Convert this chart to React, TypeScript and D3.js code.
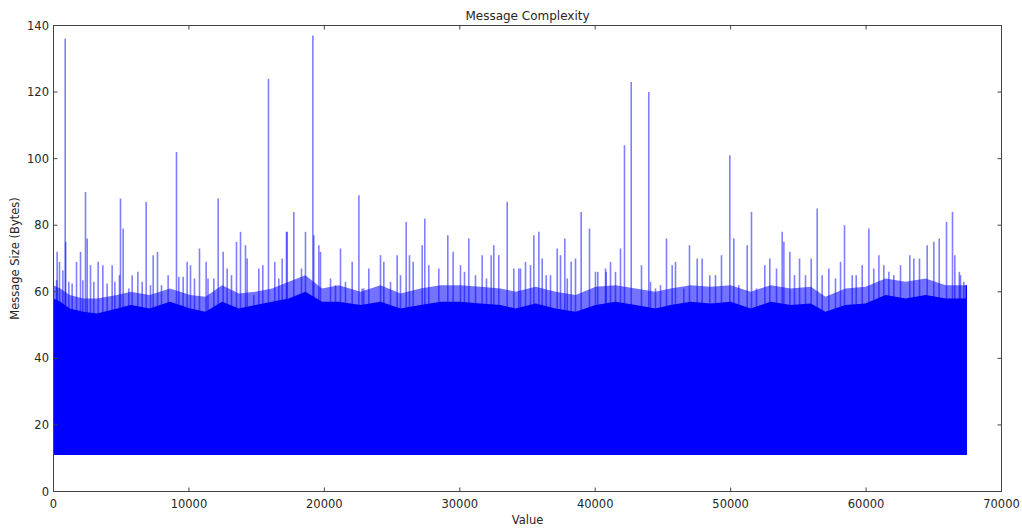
import React from "react";
import * as d3 from "d3";

// ---- data ----
const X_END = 67400;
const BASELINE = 11;

// upper edge of the dense (mostly saturated) zone
const bandX = [0, 500, 1200, 2200, 3200, 4700, 5700, 7100, 8600, 10100, 11220, 12450, 13680, 14910, 16140, 17370, 18600, 19830, 21060, 22670, 24150, 25620, 27100, 28580, 30050, 31530, 33010, 34110, 35600, 37070, 38550, 40030, 41500, 42980, 44450, 45560, 47040, 48520, 50000, 51480, 52960, 54440, 55920, 57000, 58480, 59960, 61440, 62920, 64400, 65880, 67400];
const bandTop = [62, 61, 59, 58, 58, 59, 60, 59, 61, 59, 58.5, 62, 59.5, 60, 61, 63, 65, 61, 62, 60, 62, 59.5, 61, 62, 62, 61.5, 61, 60, 61.5, 60, 59, 61.5, 62, 61, 60, 61, 62, 61.5, 62, 60, 62, 61, 61.5, 58.5, 61, 61.5, 64, 63, 64, 62, 62];
// top of the fully solid part below it
const solidTop = [58, 57, 55, 54, 53.5, 55, 56, 55, 57, 55, 54, 57, 55, 56, 57, 58, 60, 57, 57, 56, 57, 55, 56, 57, 57, 56.5, 56, 55, 56.5, 55, 54, 56, 57, 56, 55, 56, 57, 56.5, 57, 55, 57, 56, 56.5, 54, 56, 56.5, 59, 58, 59, 58, 58];

// individual excursions above the band
const peakX = [230, 270, 443, 690, 864, 900, 1132, 1377, 1700, 1994, 2166, 2363, 2488, 2732, 2978, 3298, 3643, 3962, 4330, 4530, 4873, 4947, 5144, 5563, 5809, 6227, 6547, 6843, 7163, 7360, 7679, 7975, 8465, 9082, 9254, 9574, 9869, 10116, 10411, 10780, 11270, 11409, 11838, 12160, 12528, 12823, 13143, 13513, 13808, 14177, 14300, 14790, 15160, 15455, 15875, 16340, 16637, 16885, 17204, 17254, 17745, 18312, 18607, 19150, 19220, 19593, 19715, 20453, 20822, 21192, 21561, 22055, 22550, 22793, 22912, 23283, 24146, 24390, 24884, 25377, 25622, 26042, 26287, 26557, 27225, 27416, 27712, 28450, 29115, 29509, 30052, 30347, 30667, 31160, 31654, 31972, 32319, 32511, 32880, 33502, 33988, 34357, 34483, 34852, 35221, 35470, 35840, 36085, 36380, 36698, 37193, 37437, 37757, 37935, 38224, 38544, 38963, 39578, 40020, 40190, 40760, 40811, 41129, 41498, 41867, 42162, 42658, 43417, 43956, 44083, 44452, 44821, 45263, 45683, 45928, 46541, 46961, 47530, 47899, 48460, 48881, 49325, 49938, 50234, 50600, 51223, 51540, 51908, 52521, 52891, 53387, 53806, 53930, 54373, 54715, 55090, 55527, 55948, 56391, 56759, 57250, 57742, 58113, 58408, 58975, 59271, 59715, 60207, 60567, 60946, 61310, 61685, 62047, 62544, 63231, 63526, 63945, 64512, 65004, 65400, 65939, 66382, 66553, 66888, 66973, 67218];
const peakY = [63.5, 72, 69, 66.5, 136, 75, 63, 62.5, 69, 72, 63.5, 90, 76, 68, 63, 69, 68, 62.5, 68, 63, 65, 88, 79, 61, 65, 66, 63, 87, 62, 71, 72, 62, 65, 102, 64.5, 64.5, 69, 68, 64, 73, 69, 64, 64, 88, 72, 67, 65, 75, 78, 74, 70, 59, 67, 68, 124, 69, 64, 70, 78, 78, 84, 67, 78, 137, 77, 74, 72, 64, 62, 73, 63, 69, 89, 61, 61, 67, 71, 69, 63, 71, 65, 81, 71, 69, 74, 82, 68, 67, 77, 72, 68, 66, 76, 65, 71, 64, 71, 74, 71, 87, 67, 67, 67, 69, 68, 77, 78, 70, 65, 65, 73, 71, 76, 64, 69, 70, 84, 79, 66, 66, 67, 66, 69, 66, 73, 104, 123, 68, 120, 63, 61, 62, 76, 68, 69, 61, 74, 70, 70, 65, 65, 71, 101, 76, 62, 74, 84, 61, 68, 70, 67, 78, 75, 72, 65, 70, 65, 70, 85, 65, 67, 64, 69, 80, 65, 65, 68, 79, 67, 71, 68, 66, 65, 68, 71, 70, 70, 74, 75, 76, 81, 84, 71, 66, 65, 63];

const xTicks = [0, 10000, 20000, 30000, 40000, 50000, 60000, 70000];
const yTicks = [0, 20, 40, 60, 80, 100, 120, 140];

const W = 1022;
const H = 529;
const L = 53.5, R = 1001.5, T = 25.5, B = 491.5;
const FONT = "'DejaVu Sans', sans-serif";
const TXT = "#262626";

export default function App() {
  const x = d3.scaleLinear().domain([0, 70000]).range([L, R]);
  const y = d3.scaleLinear().domain([0, 140]).range([B, T]);

  const mkArea = (tops: number[]) =>
    d3
      .area<number>()
      .x((_, i) => x(bandX[i]))
      .y0(y(BASELINE))
      .y1((d) => y(d))
      .curve(d3.curveLinear)(tops) || "";

  const tickLen = 4;

  return (
    <svg
      width={W}
      height={H}
      style={{ position: "absolute", left: 0, top: 0, background: "#fff" }}
      fontFamily={FONT}
    >
      <rect x={0} y={0} width={W} height={H} fill="#fff" />
      {/* semi-dense zone */}
      <path d={mkArea(bandTop)} fill="#0000ff" fillOpacity={0.55} />
      {/* spikes */}
      <g stroke="#0000ff" strokeOpacity={0.5} strokeWidth={1.6}>
        {peakX.map((v, i) => (
          <line key={i} x1={x(v)} x2={x(v)} y1={y(BASELINE)} y2={y(peakY[i])} />
        ))}
      </g>
      {/* solid band */}
      <path d={mkArea(solidTop)} fill="#0000ff" />
      <line x1={x(X_END)} x2={x(X_END)} y1={y(BASELINE)} y2={y(62)} stroke="#0000ff" strokeWidth={1.5} />

      {/* frame */}
      <rect x={L} y={T} width={R - L} height={B - T} fill="none" stroke="#444" strokeWidth={1} />

      {/* x ticks */}
      {xTicks.map((t) => (
        <g key={"x" + t}>
          <line x1={x(t)} x2={x(t)} y1={B} y2={B - tickLen} stroke="#444" />
          <line x1={x(t)} x2={x(t)} y1={T} y2={T + tickLen} stroke="#444" />
          <text x={x(t)} y={508} textAnchor="middle" fontSize={11.5} fill={TXT}>
            {t}
          </text>
        </g>
      ))}
      {/* y ticks */}
      {yTicks.map((t) => (
        <g key={"y" + t}>
          <line x1={L} x2={L + tickLen} y1={y(t)} y2={y(t)} stroke="#444" />
          <line x1={R} x2={R - tickLen} y1={y(t)} y2={y(t)} stroke="#444" />
          <text x={49} y={y(t)} dy="0.35em" textAnchor="end" fontSize={11.5} fill={TXT}>
            {t}
          </text>
        </g>
      ))}

      <text x={(L + R) / 2} y={20} textAnchor="middle" fontSize={12} fill={TXT}>
        Message Complexity
      </text>
      <text x={(L + R) / 2} y={524} textAnchor="middle" fontSize={11.5} fill={TXT}>
        Value
      </text>
      <text
        transform={`translate(19, ${(T + B) / 2}) rotate(-90)`}
        textAnchor="middle"
        fontSize={11.5}
        fill={TXT}
      >
        Message Size (Bytes)
      </text>
    </svg>
  );
}
